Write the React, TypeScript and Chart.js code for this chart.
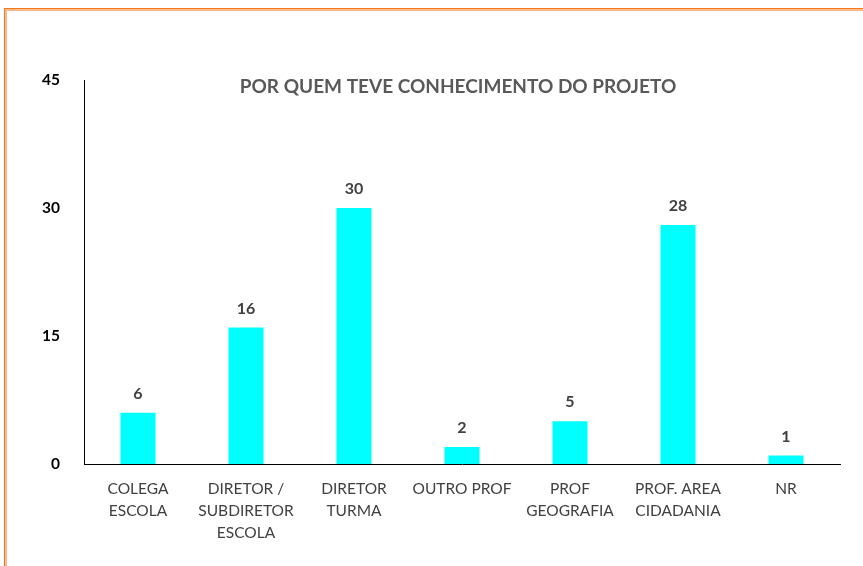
import React, { useEffect, useRef } from "react";
import { Chart, registerables } from "chart.js";

Chart.register(...registerables);

const categories: string[][] = [
  ["COLEGA", "ESCOLA"],
  ["DIRETOR /", "SUBDIRETOR", "ESCOLA"],
  ["DIRETOR", "TURMA"],
  ["OUTRO PROF"],
  ["PROF", "GEOGRAFIA"],
  ["PROF. AREA", "CIDADANIA"],
  ["NR"],
];
const values: number[] = [6, 16, 30, 2, 5, 28, 1];
const yTicks: number[] = [0, 15, 30, 45];
const title = "POR QUEM TEVE CONHECIMENTO DO PROJETO";

const FONT = "Lato, 'Open Sans', sans-serif";

const decor = {
  id: "decor",
  beforeDraw(chart: any) {
    const ctx = chart.ctx;
    ctx.save();
    ctx.fillStyle = "#ffffff";
    ctx.fillRect(0, 0, chart.width, chart.height);
    // frame
    ctx.fillStyle = "#F47A22";
    ctx.fillRect(4, 8, chart.width - 4, 1);
    ctx.fillRect(4, 8, 1, chart.height - 8);
    ctx.fillStyle = "#FDB98C";
    ctx.fillRect(5, 9, chart.width - 5, 2);
    ctx.fillRect(5, 9, 2, chart.height - 9);
    ctx.restore();
  },
  afterDatasetsDraw(chart: any) {
    const ctx = chart.ctx;
    ctx.save();
    // title
    ctx.fillStyle = "#595959";
    ctx.font = `bold 19px ${FONT}`;
    ctx.textAlign = "center";
    ctx.textBaseline = "middle";
    ctx.fillText(title, 458, 87);
    // data labels
    const meta = chart.getDatasetMeta(0);
    ctx.fillStyle = "#404040";
    ctx.font = `bold 16px ${FONT}`;
    meta.data.forEach((bar: any, i: number) => {
      ctx.fillText(String(values[i]), bar.x, bar.y - 19);
    });
    ctx.restore();
  },
};

export default function App() {
  const ref = useRef<HTMLCanvasElement | null>(null);
  useEffect(() => {
    if (!ref.current) return;
    const chart = new Chart(ref.current, {
      type: "bar",
      data: {
        labels: categories,
        datasets: [
          {
            data: values,
            backgroundColor: "#00FFFF",
            borderWidth: 0,
            barPercentage: 0.65,
            categoryPercentage: 0.5,
          },
        ],
      },
      options: {
        responsive: false,
        animation: false,
        layout: { padding: { left: 0, right: 23, top: 80, bottom: 0 } },
        plugins: {
          legend: { display: false },
          title: { display: false },
          tooltip: { enabled: false },
        },
        scales: {
          x: {
            grid: { display: false },
            border: { display: true, color: "#000000", width: 1 },
            ticks: {
              color: "#404040",
              font: { family: FONT, size: 15.5, lineHeight: 1.42 },
              padding: 6,
              maxRotation: 0,
              autoSkip: false,
            },
            afterFit(scale: any) {
              scale.height = 102;
            },
          },
          y: {
            min: 0,
            max: 45,
            grid: { display: false },
            border: { display: true, color: "#000000", width: 1 },
            afterBuildTicks(scale: any) {
              scale.ticks = yTicks.map((v) => ({ value: v }));
            },
            ticks: {
              color: "#000000",
              font: { family: FONT, size: 15.5, weight: "bold" },
              padding: 16,
            },
            afterFit(scale: any) {
              scale.width = 84;
            },
          },
        },
      },
      plugins: [decor],
    });
    return () => chart.destroy();
  }, []);
  return (
    <div style={{ position: "fixed", left: 0, top: 0, width: 863, height: 566 }}>
      <canvas ref={ref} width={863} height={566} style={{ width: 863, height: 566, display: "block" }} />
    </div>
  );
}
